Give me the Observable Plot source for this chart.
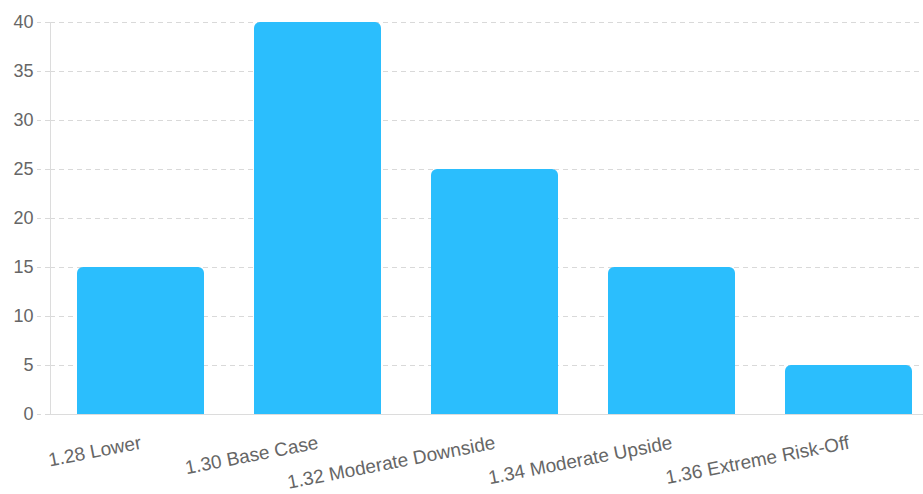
<!DOCTYPE html>
<html>
<head>
<meta charset="utf-8">
<script src="https://cdn.jsdelivr.net/npm/d3@7"></script>
<script src="https://cdn.jsdelivr.net/npm/@observablehq/plot@0.6"></script>
<style>
html,body{margin:0;padding:0;background:#fff;}
#chart{width:923px;height:494px;}
</style>
</head>
<body>
<div id="chart"></div>
<script>
const categories = ["1.28 Lower", "1.30 Base Case", "1.32 Moderate Downside", "1.34 Moderate Upside", "1.36 Extreme Risk-Off"];
const values = [15, 40, 25, 15, 5];
const yTicks = [0, 5, 10, 15, 20, 25, 30, 35, 40];

const data = categories.map((c, i) => ({category: c, value: values[i]}));

const chart = Plot.plot({
  width: 923,
  height: 494,
  marginTop: 22,
  marginBottom: 80,
  marginLeft: 50,
  marginRight: 0,
  style: {fontFamily: "'Liberation Sans', Arial, Helvetica, sans-serif", background: "#fff"},
  x: {domain: categories, range: [50, 939], paddingInner: 0.285, paddingOuter: 0.1425},
  y: {domain: [0, 40], range: [414, 22]},
  marks: [
    Plot.gridY(yTicks, {stroke: "#d9d9d9", strokeOpacity: 1, strokeDasharray: "5,4"}),
    Plot.barY(data, {x: "category", y: "value", fill: "#2bbefd", ry1: 6}),
    Plot.axisY(yTicks, {tickSize: 13, tickPadding: 4, stroke: "#d9d9d9", strokeDasharray: "5,4", fontSize: 18, fill: "#666", tickFormat: d => d, label: null}),
    Plot.axisX({tickSize: 0, tickPadding: 28, tickRotate: -11, fontSize: 19, fill: "#666", label: null}),
    Plot.frame({anchor: "left", stroke: "#dcdcdc"}),
    Plot.ruleY([0], {stroke: "#dcdcdc"})
  ]
});
document.getElementById("chart").appendChild(chart);
</script>
</body>
</html>
